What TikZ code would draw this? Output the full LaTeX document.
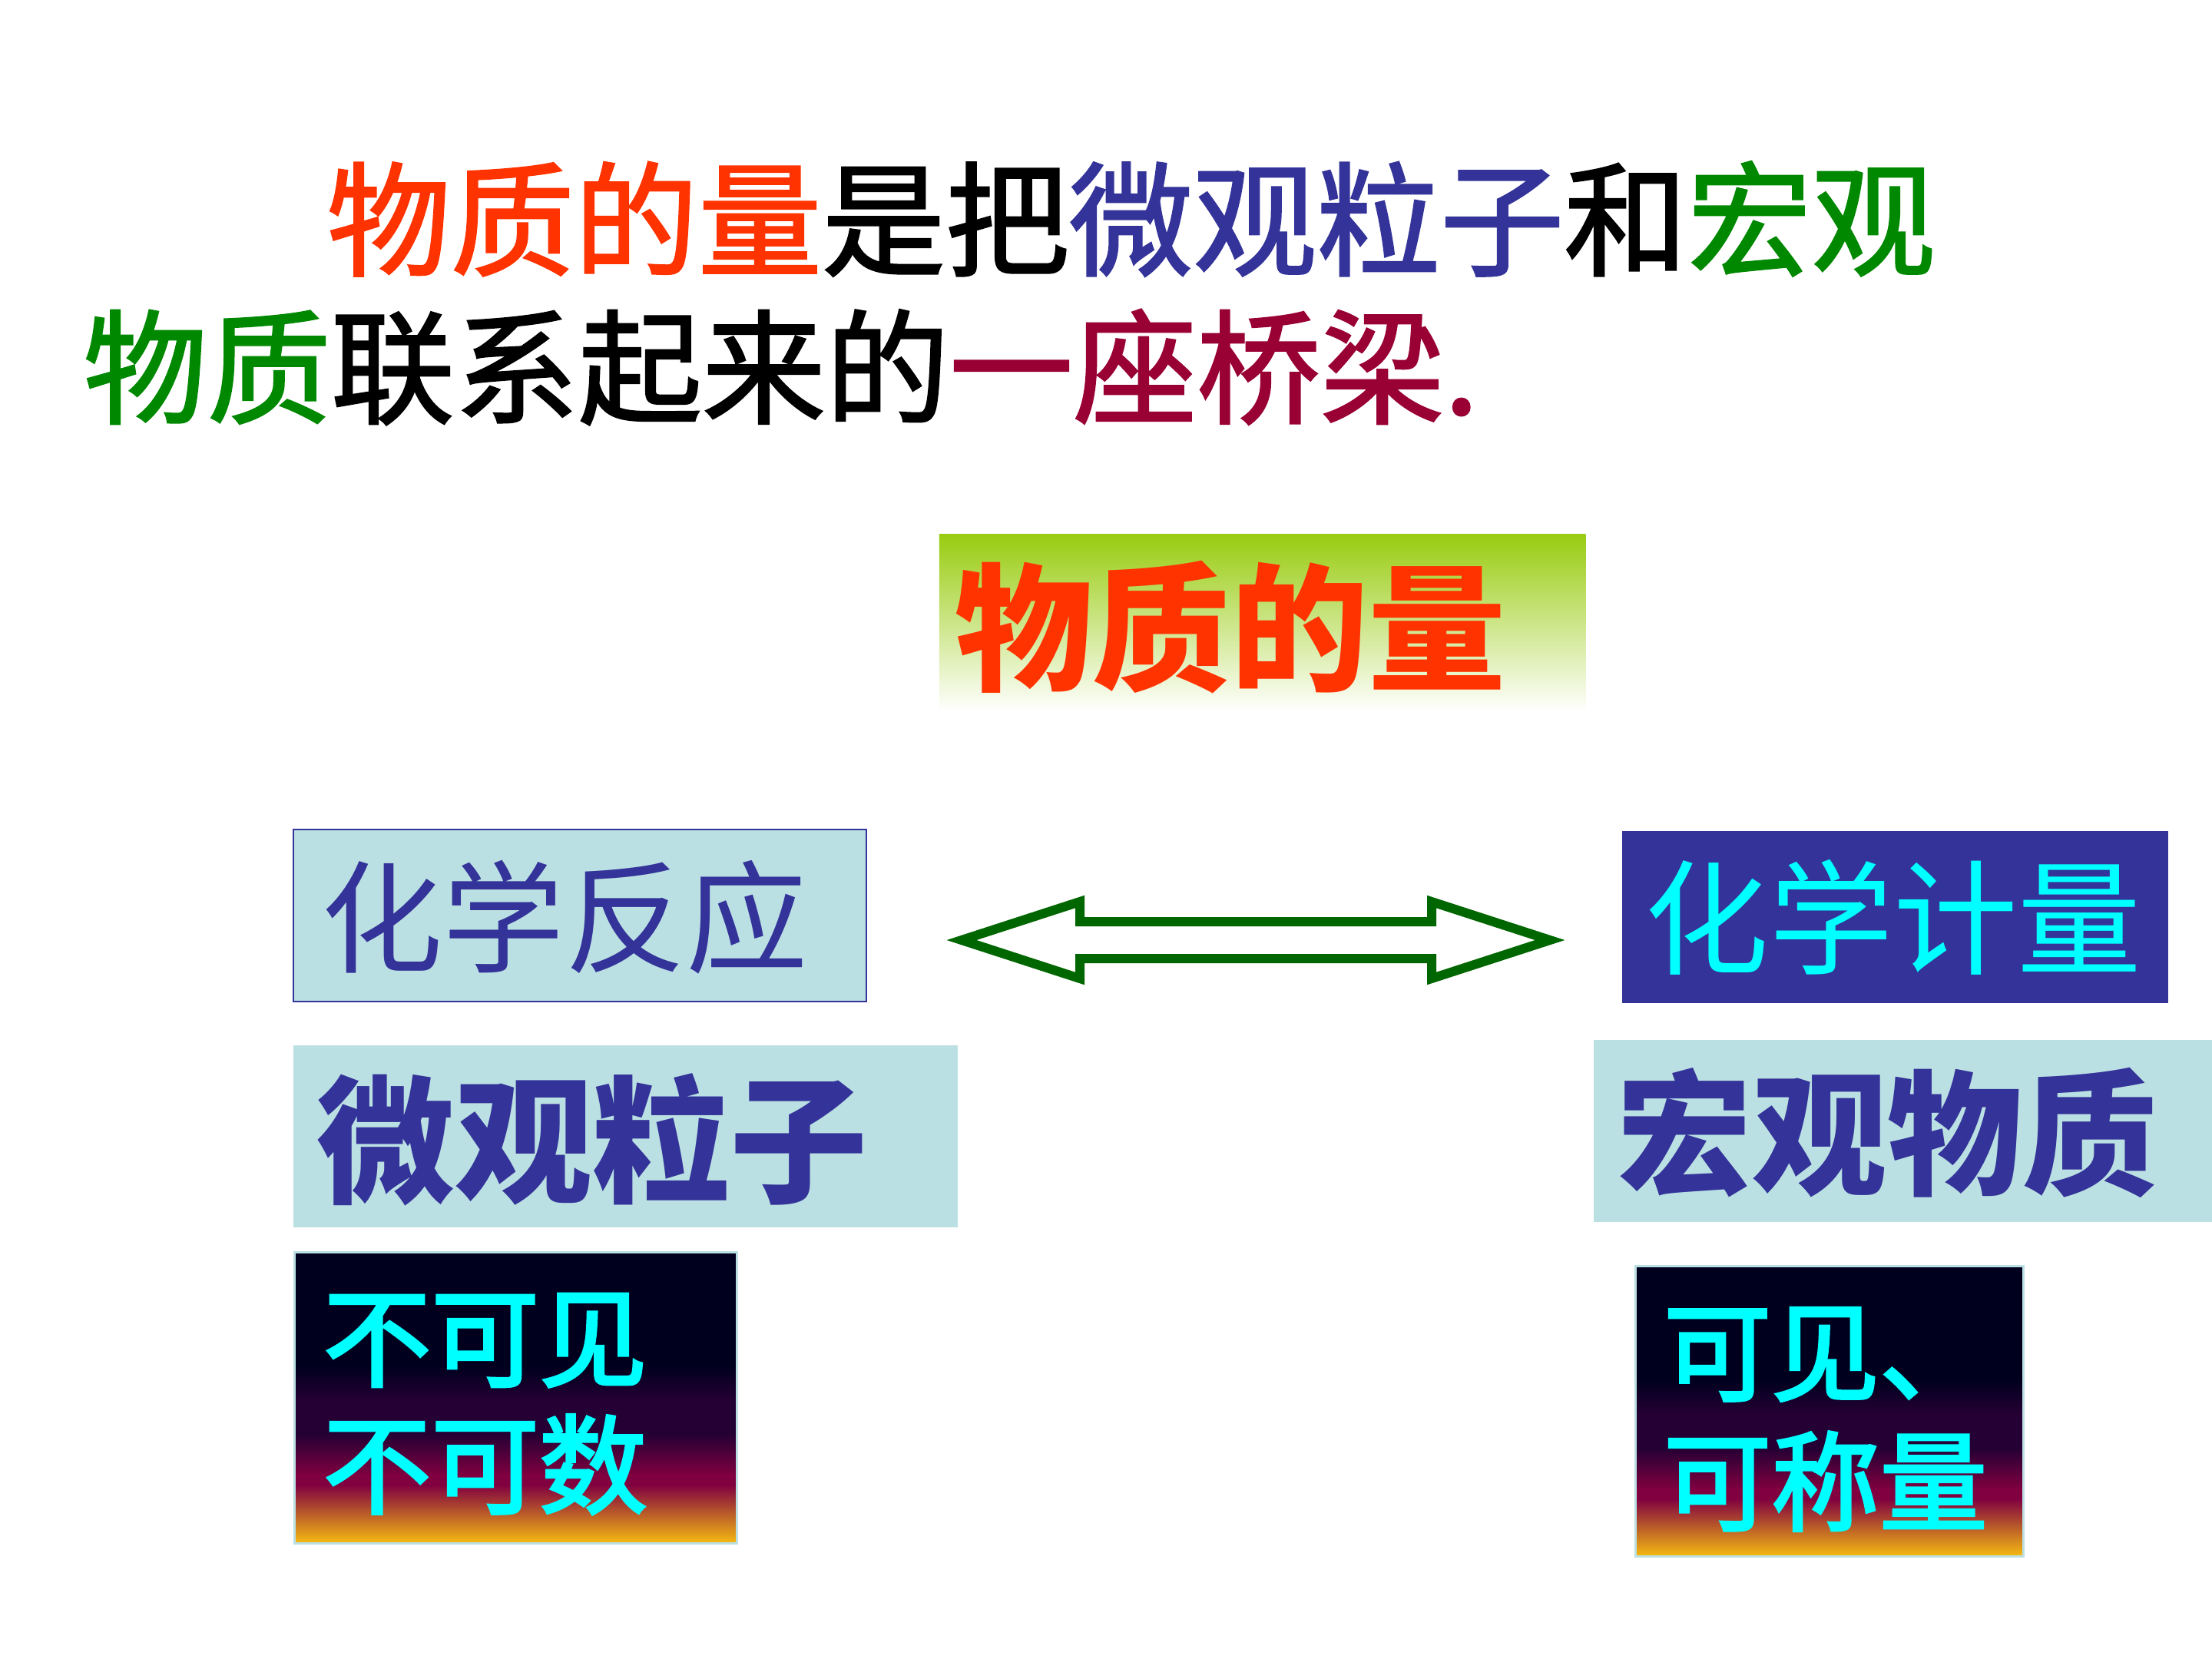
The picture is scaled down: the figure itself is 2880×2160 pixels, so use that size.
\documentclass[tikz,border=0pt]{standalone}
\usepackage{fontspec}
\setmainfont{Noto Sans CJK SC}
\newfontfamily\medfont{Noto Sans CJK SC}[FakeBold=1.6]
\newfontfamily\kaifont{Noto Sans CJK SC}[FakeBold=2.6]
\usetikzlibrary{calc}
\definecolor{cred}{HTML}{FF3300}
\definecolor{cblue}{HTML}{333399}
\definecolor{cgreen}{HTML}{008800}
\definecolor{cdred}{HTML}{990033}
\definecolor{clb}{HTML}{BBE0E3}
\definecolor{carrow}{HTML}{006600}
\definecolor{ccyan}{HTML}{00FFFF}
\definecolor{cdark}{HTML}{00001E}
\definecolor{cpurp}{HTML}{240034}
\definecolor{ccrim}{HTML}{800040}
\definecolor{cgold}{HTML}{F5BA12}
\definecolor{cyg}{HTML}{99CC11}
\tikzset{
  txt/.style={inner sep=0pt, anchor=west},
  boxn/.style={inner sep=0pt, rectangle},
  gframe/.style={boxn, draw=clb, line width=0.03cm},
}
\begin{document}
\begin{tikzpicture}[x=0.01cm,y=-0.01cm]
\useasboundingbox (0,0) rectangle (2880,2160);
\fill[white] (0,0) rectangle (2880,2160);

% title lines
\node[txt, font=\fontsize{45.8pt}{50pt}\medfont] (l1) at (425,285)
  {\textcolor{cred}{物质的量}是把\textcolor{cblue}{微观粒子}和\textcolor{cgreen}{宏观}};
\node[txt, font=\fontsize{45.8pt}{50pt}\medfont] (l2) at (108,478)
  {\textcolor{cgreen}{物质}联系起来的\textcolor{cdred}{一座桥梁.}};

% title box
\node[boxn, top color=cyg, bottom color=white, minimum width=8.41cm, minimum height=2.30cm] (tb) at (1643.5,811) {};
\node[inner sep=0pt, font=\fontsize{51pt}{55pt}\selectfont\bfseries, text=cred] (tt) at (1602,817) {物质的量};

% chemical reaction box
\node[boxn, draw=cblue, line width=0.025cm, fill=clb, minimum width=7.46cm, minimum height=2.24cm] (rb) at (755,1192) {};
\node[txt, font=\fontsize{45pt}{50pt}\selectfont, text=cblue] (rt) at (418,1194) {化学反应};

% stoichiometry box
\node[boxn, fill=cblue, minimum width=7.11cm, minimum height=2.24cm] (jb) at (2467.5,1194) {};
\node[inner sep=0pt, font=\fontsize{46pt}{50pt}\selectfont, text=ccyan] (jt) at (2465,1194) {化学计量};

% double block arrow
\draw[carrow, line width=0.12cm, line join=miter]
  (1252,1224) -- (1406,1174) -- (1406,1200) -- (1864,1200) -- (1864,1174)
  -- (2018,1224) -- (1864,1274) -- (1864,1248) -- (1406,1248) -- (1406,1274) -- cycle;

% micro particles box
\node[boxn, fill=clb, minimum width=8.65cm, minimum height=2.37cm] (wb) at (814.5,1479.5) {};
\node[txt, font=\fontsize{51pt}{55pt}\selectfont\bfseries, text=cblue] (wt) at (412,1484) {微观粒子};

% macro matter box
\node[boxn, fill=clb, minimum width=8.05cm, minimum height=2.37cm] (hb) at (2477.5,1472.5) {};
\node[txt, font=\fontsize{50pt}{55pt}\selectfont\bfseries, text=cblue] (ht) at (2105,1475) {宏观物质};

% left gradient box
\fill[cdark] (384,1631) rectangle (959,1779);
\shade[top color=cdark, bottom color=cpurp] (384,1778) rectangle (959,1822);
\fill[cpurp] (384,1821) rectangle (959,1868);
\shade[top color=cpurp, bottom color=ccrim] (384,1867) rectangle (959,1921);
\fill[ccrim] (384,1920) rectangle (959,1934);
\shade[top color=ccrim, bottom color=cgold] (384,1933) rectangle (959,2009);
\node[gframe, minimum width=5.75cm, minimum height=3.78cm] (gb1) at (671.5,1820) {};
\node[txt, align=left, font=\fontsize{40pt}{47pt}\kaifont, text=ccyan] (gt1) at (420,1828) {不可见\\不可数};

% right gradient box
\fill[cdark] (2130,1649) rectangle (2634,1797);
\shade[top color=cdark, bottom color=cpurp] (2130,1796) rectangle (2634,1840);
\fill[cpurp] (2130,1839) rectangle (2634,1886);
\shade[top color=cpurp, bottom color=ccrim] (2130,1885) rectangle (2634,1939);
\fill[ccrim] (2130,1938) rectangle (2634,1952);
\shade[top color=ccrim, bottom color=cgold] (2130,1951) rectangle (2634,2026);
\node[gframe, minimum width=5.04cm, minimum height=3.77cm] (gb2) at (2382,1837.5) {};
\node[txt, align=left, font=\fontsize{40pt}{48pt}\kaifont, text=ccyan] (gt2) at (2165,1848) {可见、\\可称量};

\end{tikzpicture}
\end{document}
